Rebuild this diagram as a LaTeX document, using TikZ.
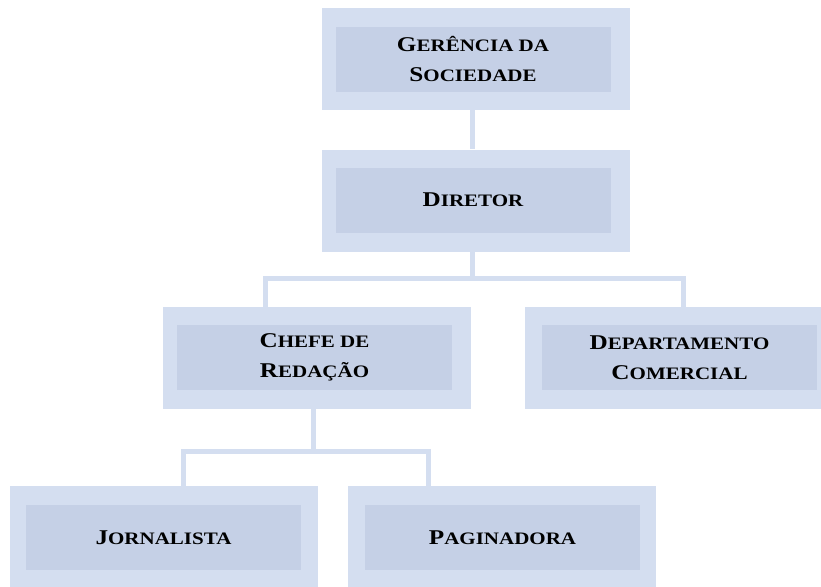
\documentclass[tikz,border=0pt]{standalone}
\usepackage{fontspec}
\usetikzlibrary{calc}
\newfontfamily\cfont[FakeStretch=1.2]{Liberation Serif}
\newcommand\capw[2]{{\fontsize{21}{30}\selectfont #1}{\fontsize{17.5}{30}\selectfont #2}}
\newcommand\smw[1]{{\fontsize{17.5}{30}\selectfont #1}}
\definecolor{outerc}{RGB}{212,222,240}
\definecolor{innerc}{RGB}{197,208,230}
\tikzset{
  outerbox/.style={fill=outerc, draw=none, minimum width=308pt, minimum height=102pt, inner sep=0pt},
  innerbox/.style={fill=innerc, draw=none, minimum width=275pt, minimum height=65pt, inner sep=0pt,
    align=center, font=\cfont\bfseries\fontsize{17.5}{30}\selectfont, text=black},
  conn/.style={draw=outerc, line width=5pt, line join=miter}
}
\begin{document}
\begin{tikzpicture}[x=1pt,y=1pt]
\useasboundingbox (0,0) rectangle (821,-586);
\clip (0,0) rectangle (821,-586);
% coordinates for buses
\coordinate (b1) at (472,-278);
\coordinate (bl) at (265,-278);
\coordinate (br) at (683,-278);
\coordinate (c1) at (313,-451);
\coordinate (cl) at (183,-451);
\coordinate (cr) at (428,-451);
\coordinate (a1) at (472,-100);
% outer boxes
\node[outerbox] (go) at (476,-59) {};
\node[outerbox] (do) at (476,-200.5) {};
\node[outerbox] (co) at (317,-358) {};
\node[outerbox] (po) at (679,-358) {};
\node[outerbox] (jo) at (164,-537) {};
\node[outerbox] (pgo) at (502,-537) {};
% connectors
\draw[conn] (a1 |- go.south) -- (a1 |- do.north);
\draw[conn] (b1 |- do.south) -- (b1);
\draw[conn] (bl |- co.north) -- (bl) -- (br) -- (br |- po.north);
\draw[conn] (c1 |- co.south) -- (c1);
\draw[conn] (cl |- jo.north) -- (cl) -- (cr) -- (cr |- pgo.north);
% inner boxes with text
\node[innerbox] (g) at (473,-59.5) {\capw{G}{ERÊNCIA} \smw{DA}\\\capw{S}{OCIEDADE}};
\node[innerbox] (d) at (473,-200) {\capw{D}{IRETOR}};
\node[innerbox] (c) at (314.5,-357.5) {\capw{C}{HEFE} \smw{DE}\\\capw{R}{EDAÇÃO}};
\node[innerbox] (p) at (679.5,-357.5) {\capw{D}{EPARTAMENTO}\\\capw{C}{OMERCIAL}};
\node[innerbox] (j) at (163.5,-537.5) {\capw{J}{ORNALISTA}};
\node[innerbox] (pg) at (502.5,-537.5) {\capw{P}{AGINADORA}};
\end{tikzpicture}
\end{document}
